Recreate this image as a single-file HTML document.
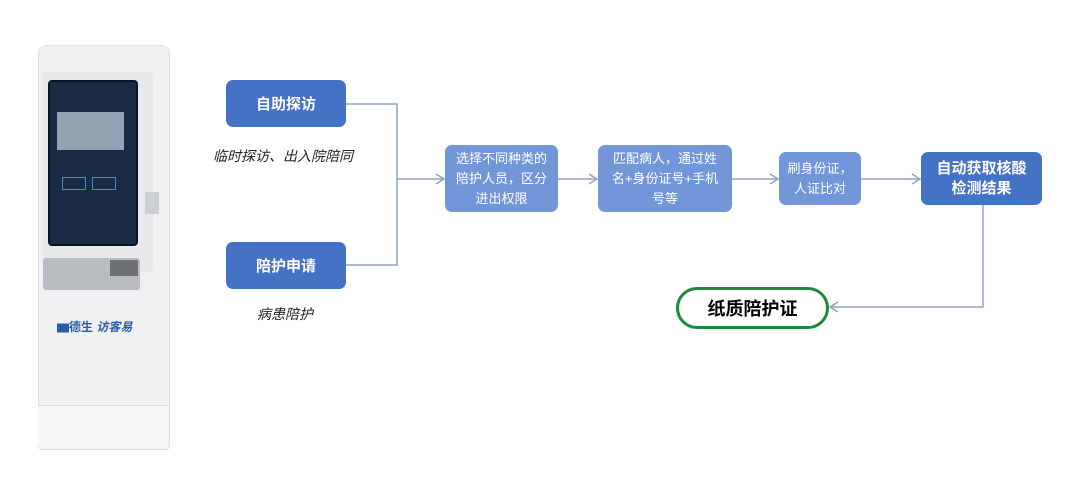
<!DOCTYPE html>
<html><head><meta charset="utf-8"><style>
body{margin:0;width:1082px;height:478px;background:#fff;position:relative;overflow:hidden;font-family:"Liberation Sans","Noto Sans CJK SC",sans-serif}
.b{position:absolute;color:#fff;display:flex;align-items:center;justify-content:center;text-align:center;border-radius:7px;box-sizing:border-box}
.d{background:#4472c4;font-weight:bold;font-size:15px}
.l{background:#7396d8;font-size:13px;line-height:20px;padding:0 6px}
.t{position:absolute;font-style:italic;font-size:14px;color:#222}
</style></head><body>
<!-- kiosk -->
<div style="position:absolute;left:38px;top:45px;width:130px;height:403px;background:#eef0f2;border:1px solid #dfe2e5;border-radius:8px 8px 4px 4px"></div>
<div style="position:absolute;left:43px;top:72px;width:110px;height:200px;background:#e6e8ea;border-radius:4px"></div>
<div style="position:absolute;left:48px;top:80px;width:86px;height:162px;background:#1a2c44;border-radius:4px;border:2px solid #0b1422"></div>
<div style="position:absolute;left:57px;top:112px;width:67px;height:38px;background:#8fa2b2"></div>
<div style="position:absolute;left:62px;top:177px;width:22px;height:11px;border:1px solid #4a8acc"></div>
<div style="position:absolute;left:92px;top:177px;width:22px;height:11px;border:1px solid #4a8acc"></div>
<div style="position:absolute;left:43px;top:258px;width:97px;height:32px;background:#b9bcc0;border-radius:3px"></div>
<div style="position:absolute;left:110px;top:260px;width:28px;height:16px;background:#6d7075"></div>
<div style="position:absolute;left:145px;top:192px;width:14px;height:22px;background:#cdd0d3"></div>
<div style="position:absolute;left:57px;top:318px;width:80px;height:14px;color:#2a5ca8;font-size:12px;font-weight:bold">▆德生 <i>访客易</i></div>
<div style="position:absolute;left:38px;top:405px;width:130px;height:43px;background:#f5f6f7;border-top:1px solid #ddd;border-radius:0 0 6px 6px"></div>
<!-- boxes -->
<div class="b d" style="left:226px;top:80px;width:120px;height:47px">自助探访</div>
<div class="b d" style="left:226px;top:242px;width:120px;height:47px">陪护申请</div>
<div class="t" style="left:213px;top:146px">临时探访、出入院陪同</div>
<div class="t" style="left:257px;top:304px">病患陪护</div>
<div class="b l" style="left:445px;top:145px;width:113px;height:67px">选择不同种类的陪护人员，区分进出权限</div>
<div class="b l" style="left:598px;top:145px;width:134px;height:67px;padding:0 13px">匹配病人，通过姓名+身份证号+手机号等</div>
<div class="b l" style="left:779px;top:152px;width:82px;height:53px">刷身份证，<br>人证比对</div>
<div class="b d" style="left:921px;top:152px;width:121px;height:53px;line-height:20px">自动获取核酸<br>检测结果</div>
<div class="b" style="left:676px;top:287px;width:153px;height:42px;border:3px solid #1e8a3c;border-radius:21px;color:#000;font-weight:bold;font-size:18px">纸质陪护证</div>
<svg width="1082" height="478" style="position:absolute;left:0;top:0" fill="none" stroke="#8fa3c4" stroke-width="1.5">
<path d="M346 104H397V265H346M397 179H444M558 179H597M732 179H778M861 179H920M983 205V307H830"/>
<path d="M436 174l8 5-8 5M589 174l8 5-8 5M770 174l8 5-8 5M912 174l8 5-8 5M838 302l-8 5 8 5"/>
</svg>
</body></html>
